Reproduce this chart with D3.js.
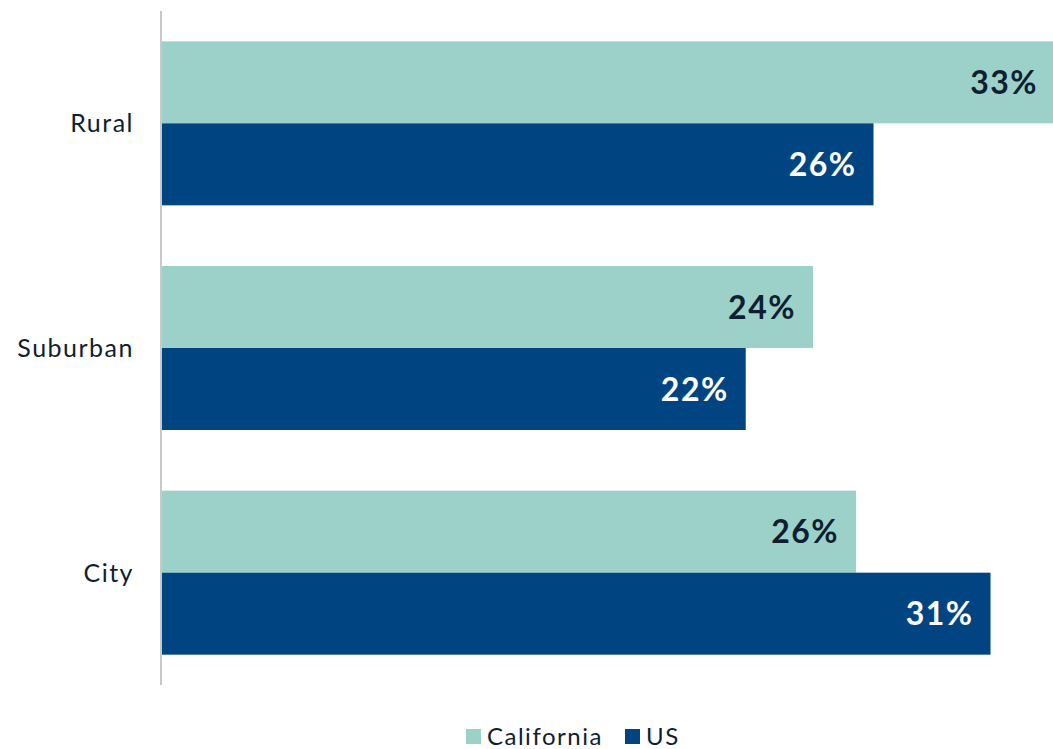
<!DOCTYPE html>
<html>
<head>
<meta charset="utf-8">
<script src="https://cdn.jsdelivr.net/npm/d3@7"></script>
<style>
  body { margin: 0; background: #fff; }
  svg { display: block; font-family: 'Lato', 'Open Sans', sans-serif; }
</style>
</head>
<body>
<div id="chart"></div>
<script>
var categories = ['Rural', 'Suburban', 'City'];
var seriesNames = ['California', 'US'];
var californiaValues = [33.2, 24.2, 25.8];
var usValues = [26.45, 21.7, 30.8];
var colors = ['#9bd1c8', '#004582'];
var labelColors = ['#0f1e30', '#ffffff'];

var width = 1053, height = 749;

var svg = d3.select('#chart').append('svg')
            .attr('width', width).attr('height', height);

var x = d3.scaleLinear().domain([0, 35]).range([162, 162 + 35 * 26.9]);
var y = d3.scaleBand().domain(categories).range([11, 685]).paddingInner(0.27).paddingOuter(0.135);
var ySub = d3.scaleBand().domain(seriesNames).range([0, y.bandwidth()]);

var rows = categories.map(function(c, i){
  return { cat: c, vals: [californiaValues[i], usValues[i]] };
});

var groups = svg.selectAll('g.cat').data(rows).enter().append('g')
                .attr('class', 'cat')
                .attr('transform', function(d){ return 'translate(0,' + y(d.cat) + ')'; });

groups.selectAll('rect').data(function(d){ return d.vals; }).enter().append('rect')
      .attr('x', x(0))
      .attr('y', function(d, i){ return ySub(seriesNames[i]); })
      .attr('width', function(d){ return x(d) - x(0); })
      .attr('height', ySub.bandwidth())
      .attr('fill', function(d, i){ return colors[i]; });

groups.selectAll('text.val').data(function(d){ return d.vals; }).enter().append('text')
      .attr('class', 'val')
      .attr('x', function(d){ return x(d) - 17; })
      .attr('y', function(d, i){ return ySub(seriesNames[i]) + ySub.bandwidth() / 2; })
      .attr('dy', '0.36em')
      .attr('text-anchor', 'end')
      .attr('font-size', '32px')
      .attr('letter-spacing', '1.5px')
      .attr('font-weight', 'bold')
      .attr('fill', function(d, i){ return labelColors[i]; })
      .text(function(d){ return d3.format('.0f')(d) + '%'; });

// axis line
svg.append('line')
   .attr('x1', 161).attr('x2', 161)
   .attr('y1', 11).attr('y2', 685)
   .attr('stroke', '#c9c9c9').attr('stroke-width', 2);

svg.selectAll('text.cat').data(categories).enter().append('text')
   .attr('class', 'cat')
   .attr('x', 134)
   .attr('y', function(d){ return y(d) + y.bandwidth() / 2; })
   .attr('dy', '0.36em')
   .attr('text-anchor', 'end')
   .attr('font-size', '25px')
   .attr('letter-spacing', '1.5px')
   .attr('fill', '#0f1e30')
   .text(function(d){ return d; });

// legend
var legendX = [466, 625];
var legend = svg.selectAll('g.legend').data(seriesNames).enter().append('g')
                .attr('class', 'legend')
                .attr('transform', function(d, i){ return 'translate(' + legendX[i] + ',729)'; });
legend.append('rect')
      .attr('width', 15).attr('height', 15)
      .attr('fill', function(d, i){ return colors[i]; });
legend.append('text')
      .attr('x', 21).attr('y', 7.5)
      .attr('dy', '0.36em')
      .attr('font-size', '24px')
      .attr('letter-spacing', '1.5px')
      .attr('fill', '#0f1e30')
      .text(function(d){ return d; });
</script>
</body>
</html>
